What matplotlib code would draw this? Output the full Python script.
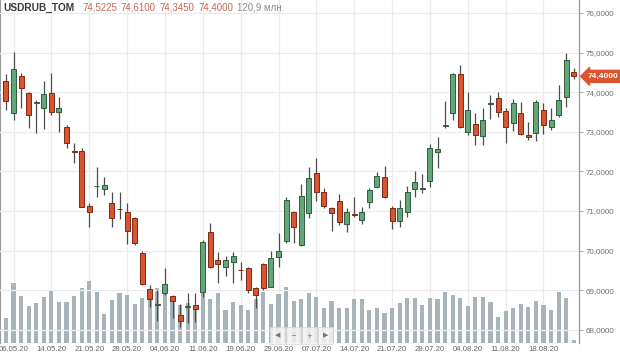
import matplotlib
matplotlib.use('Agg')
import matplotlib.pyplot as plt
from matplotlib.patches import Rectangle

plt.rcParams['font.family'] = ['Liberation Sans', 'DejaVu Sans']

# daily candles USDRUB_TOM, 05.05.20 .. 21.08.20
opens = [74.29, 73.48, 74.42, 73.99, 73.72, 73.59, 73.97, 73.49, 73.13, 72.51,
         72.52, 71.13, 71.62, 71.56, 71.19, 71.06, 70.98, 70.82, 69.95, 69.02,
         68.63, 68.94, 68.86, 68.37, 68.57, 68.63, 68.96, 70.48, 69.76, 69.58,
         69.70, 69.52, 69.55, 69.05, 69.66, 69.09, 69.85, 70.23, 70.98, 70.14,
         70.94, 71.95, 71.49, 71.08, 71.24, 70.67, 70.93, 70.77, 71.22, 71.61,
         71.85, 71.08, 70.76, 70.98, 71.56, 71.56, 71.76, 72.48, 73.14, 73.47,
         74.45, 73.00, 73.20, 72.90, 73.71, 73.85, 73.53, 73.23, 73.48, 72.91,
         72.98, 73.55, 73.11, 73.42, 73.89, 74.5225]
highs = [74.45, 75.02, 74.48, 74.01, 73.80, 74.29, 74.49, 73.87, 73.17, 72.72,
         72.58, 71.21, 72.10, 71.87, 71.49, 71.49, 71.19, 70.86, 70.00, 69.13,
         69.00, 69.55, 68.88, 68.65, 68.92, 68.92, 70.27, 70.69, 69.97, 69.86,
         69.97, 69.72, 69.58, 69.09, 69.69, 69.99, 70.44, 71.35, 71.01, 71.67,
         72.10, 72.33, 71.57, 71.11, 71.43, 71.07, 71.35, 71.11, 71.59, 71.99,
         72.14, 71.13, 71.28, 71.64, 72.01, 71.93, 72.68, 72.88, 73.78, 74.49,
         74.69, 74.01, 73.47, 73.59, 73.93, 74.01, 73.59, 73.82, 73.76, 73.25,
         73.80, 73.72, 73.59, 74.18, 75.00, 74.61]
lows = [73.55, 73.30, 73.59, 73.10, 72.98, 73.06, 73.42, 73.00, 72.58, 72.22,
        71.09, 70.60, 71.35, 71.40, 70.60, 70.79, 70.17, 70.14, 69.13, 68.58,
        68.23, 68.88, 68.29, 68.06, 68.18, 68.20, 68.82, 69.55, 69.19, 69.36,
        69.17, 69.26, 68.92, 68.54, 69.01, 69.07, 69.59, 70.18, 70.18, 70.12,
        70.82, 71.24, 71.08, 70.50, 70.65, 70.48, 70.84, 70.66, 71.07, 71.57,
        71.34, 70.54, 70.60, 70.84, 71.36, 71.45, 71.61, 72.08, 73.09, 73.30,
        73.10, 72.92, 72.67, 72.67, 73.32, 73.37, 72.71, 73.03, 72.92, 72.79,
        72.78, 72.94, 73.05, 73.38, 73.63, 74.345]
closes = [73.78, 74.59, 74.11, 73.42, 73.74, 73.95, 73.49, 73.59, 72.71, 72.49,
          71.11, 70.98, 71.64, 71.66, 70.82, 71.04, 70.50, 70.18, 69.16, 68.77,
          68.65, 69.15, 68.73, 68.23, 68.59, 68.52, 70.21, 69.58, 69.66, 69.76,
          69.86, 69.50, 69.01, 68.88, 69.05, 69.81, 69.99, 71.28, 70.59, 71.38,
          71.83, 71.49, 71.13, 70.96, 70.73, 70.98, 70.91, 70.98, 71.53, 71.88,
          71.36, 70.75, 71.07, 71.47, 71.74, 71.58, 72.58, 72.57, 73.16, 74.45,
          73.13, 73.55, 72.92, 73.30, 73.73, 73.51, 73.13, 73.72, 72.94, 72.86,
          73.76, 73.17, 73.30, 73.80, 74.81, 74.40]
# volume, mln
volumes = [1000, 2400, 1880, 1480, 1600, 1840, 2120, 1640, 1640, 1880,
           2200, 2480, 2040, 1160, 1720, 2000, 1920, 1560, 1800, 1760,
           2200, 2000, 1640, 1520, 1600, 1520, 2080, 1760, 2000, 1320,
           1640, 1520, 1320, 1760, 2040, 1560, 1960, 2240, 1680, 1760,
           2000, 1840, 1400, 1680, 1400, 1400, 1760, 1760, 1320, 1400,
           1200, 1400, 1600, 1800, 1800, 1520, 1800, 1760, 2040, 1920,
           1800, 1480, 1840, 1840, 1640, 1040, 1280, 1400, 1560, 1440,
           1680, 1520, 1320, 2040, 1800, 120.9]

tick_idx = [1, 6, 11, 16, 21, 26, 31, 36, 41, 46, 51, 56, 61, 66, 71]
tick_labels = ['06.05.20', '14.05.20', '21.05.20', '28.05.20', '04.06.20',
               '11.06.20', '19.06.20', '29.06.20', '07.07.20', '14.07.20',
               '21.07.20', '28.07.20', '04.08.20', '11.08.20', '18.08.20']
price_ticks = [68, 69, 70, 71, 72, 73, 74, 75, 76]

GREEN, GREEN_E = '#62a679', '#2f5e3d'
RED, RED_E = '#d9542f', '#7c2a17'
GRID = '#ebebeb'

fig = plt.figure(figsize=(6.2, 3.56), dpi=100)
rect = [0, 13/356, 579/620, 343/356]

axv = fig.add_axes(rect)
ax = fig.add_axes(rect, sharex=axv)
ax.patch.set_alpha(0)

x = list(range(len(closes)))

# volume underneath
axv.bar(x, volumes, width=0.55, color='#a8b3ba', zorder=2)
axv.set_ylim(0, 13720)
axv.set_yticks([])
axv.set_xlim(-0.79, 75.69)
axv.set_xticks(tick_idx)
axv.set_xticklabels(tick_labels, fontsize=5.6, color='#666666')
axv.tick_params(axis='x', length=0, pad=2)
axv.grid(axis='x', color=GRID, lw=0.9, zorder=0)
axv.set_axisbelow(True)
for s in ['top', 'right', 'bottom']:
    axv.spines[s].set_visible(False)
axv.spines['left'].set_color('#999999')

# candles
for i in x:
    up = closes[i] >= opens[i]
    fc, ec = (GREEN, GREEN_E) if up else (RED, RED_E)
    ax.vlines(i, lows[i], highs[i], color='#4d4d4d', lw=0.9, zorder=3)
    ax.bar(i, closes[i] - opens[i], bottom=opens[i], width=0.66,
           color=fc, edgecolor=ec, lw=0.7, zorder=4)

ax.set_ylim(67.667, 76.328)
ax.set_yticks(price_ticks)
ax.set_yticklabels(['%.4f' % p for p in price_ticks], fontsize=5.8, color='#6e6e6e')
ax.yaxis.set_label_position('right')
ax.yaxis.tick_right()
ax.tick_params(axis='y', length=3, width=0.6, color='#999999', pad=2)
ax.tick_params(axis='x', bottom=False, labelbottom=False)
ax.set_yticklabels([('%.4f' % p).replace('.', ',') for p in price_ticks])
for p in price_ticks:
    ax.axhline(p, color=GRID, lw=0.9, zorder=1)
for s in ['top', 'left', 'bottom']:
    ax.spines[s].set_visible(False)
ax.spines['right'].set_color('#a0a0a0')
ax.spines['right'].set_linewidth(1.0)

# last price tag
ax.annotate(('%.4f' % closes[-1]).replace('.', ','), xy=(1.0, closes[-1]),
            xycoords=('axes fraction', 'data'), xytext=(6, 0),
            textcoords='offset points', va='center', ha='left',
            fontsize=6, fontweight='bold', color='white', annotation_clip=False,
            bbox=dict(boxstyle='larrow,pad=0.3', fc='#d9542f', ec='#d9542f'))

# header line
yt = 1 - 7.5/356
fig.text(3/620, yt, 'USDRUB_TOM', fontsize=7.3, fontweight='bold',
         color='#3a3a3a', va='center')
hdr = [opens[-1], highs[-1], lows[-1], closes[-1]]
hx = [82, 120, 159, 198]
for v, px in zip(hdr, hx):
    fig.text(px/620, yt, ('%.4f' % v).replace('.', ','), fontsize=7,
             color='#c4684f', va='center')
fig.text(237/620, yt, ('%.1f млн.' % volumes[-1]).replace('.', ',', 1),
         fontsize=7, color='#8c8c8c', va='center')

# small scroll widget
nav = ['◀', '−', '+', '▶']
for k, s in enumerate(nav):
    x0 = (270 + k*16)/620
    fig.patches.append(Rectangle((x0, 1 - 344/356), 15/620, 17/356,
                                 transform=fig.transFigure, fc='#f2f2f2',
                                 ec='#d6d6d6', lw=0.6, alpha=0.85, zorder=5))
    fig.text(x0 + 7.5/620, 1 - 335.5/356, s, fontsize=5, color='#777777',
             ha='center', va='center', zorder=6, family='DejaVu Sans')

fig.savefig('out.png', dpi=100)
